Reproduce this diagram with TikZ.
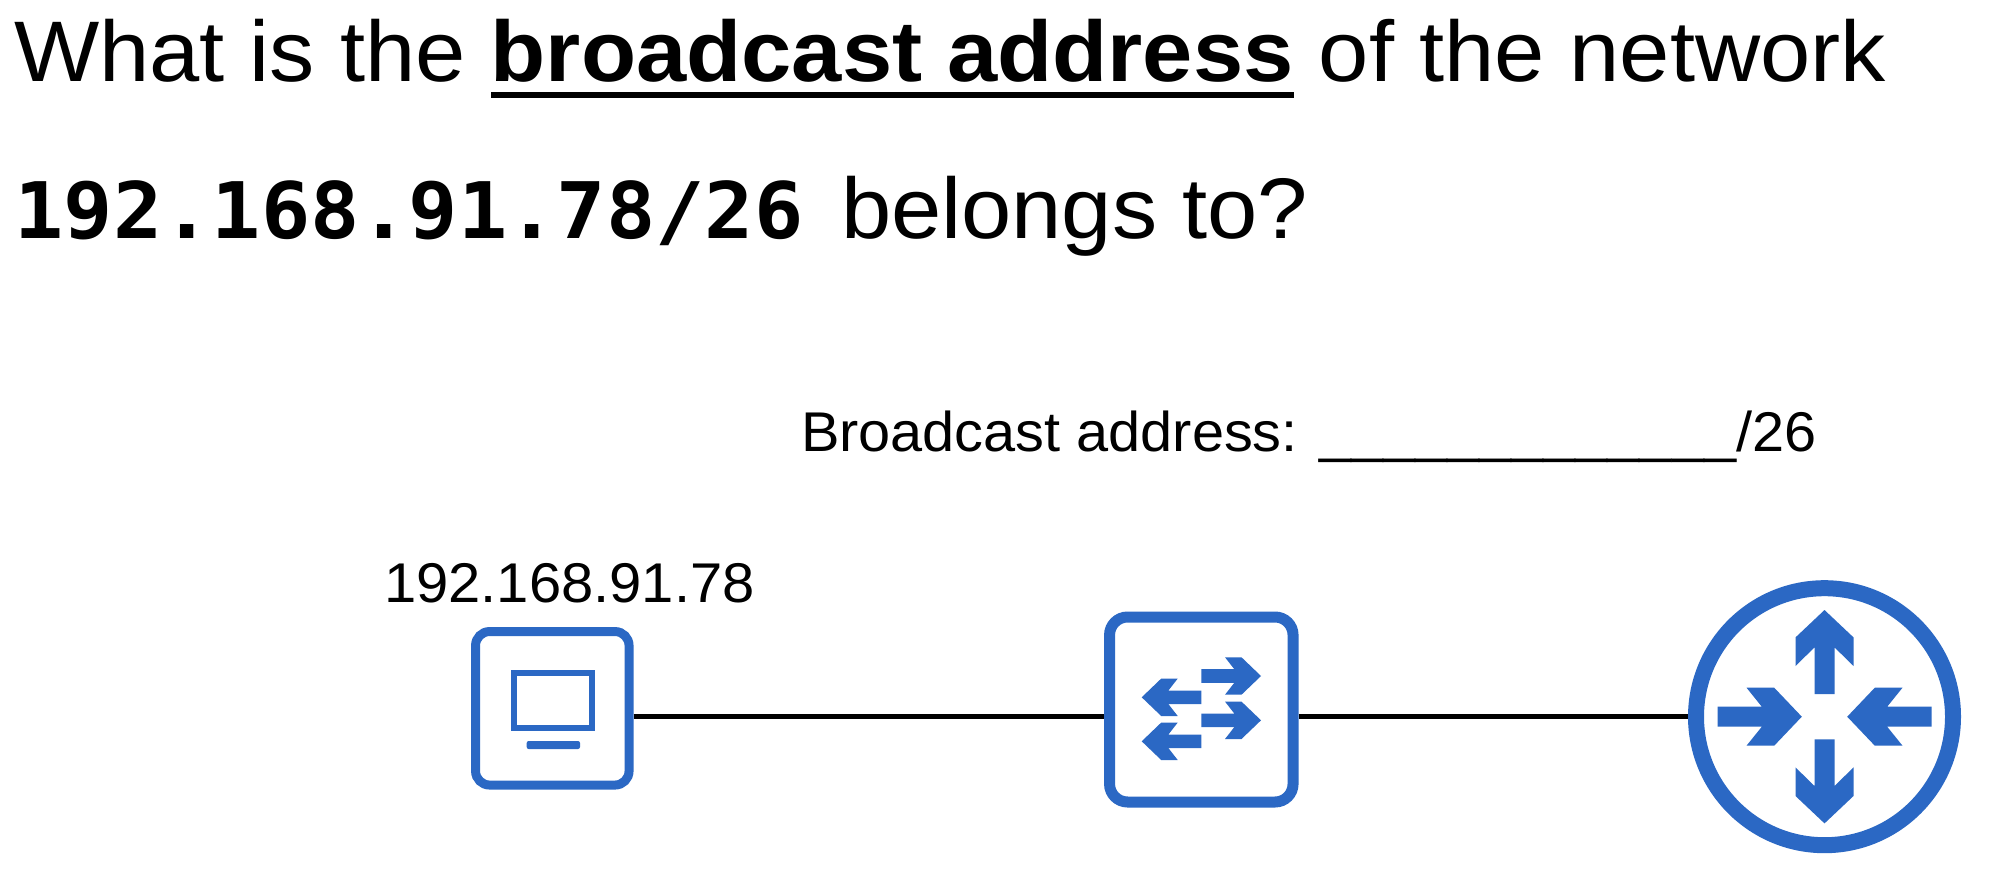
\documentclass[tikz,border=0pt]{standalone}
\usepackage{graphicx}
\usepackage{fontspec}
\setmainfont{Liberation Sans}
\setmonofont{DejaVu Sans Mono}
\definecolor{netblue}{HTML}{2B68C4}
\newcommand\fs[1]{\fontsize{#1}{#1}\selectfont}
\newcommand\thickul[1]{\setbox0=\hbox{#1}\rlap{\rule[-16pt]{\wd0}{6pt}}\box0\relax}
\tikzset{
  txt/.style={anchor=base west,inner sep=0pt,outer sep=0pt,text=black},
  device/.style={draw=netblue,fill=white,rectangle,inner sep=0pt},
  wire/.style={draw=black,line width=4.5pt},
  glyph/.style={fill=netblue,draw=none},
}
\newcommand\swarrowicon[1]{\fill[glyph,#1] (0,0)--(-19.5,-18.7)--(-36,-18.7)--(-26.7,-6.8)--(-59.7,-6.8)--(-59.7,6.8)--(-26.7,6.8)--(-36,18.7)--(-19.5,18.7)--cycle;}
\begin{document}
\begin{tikzpicture}[x=1pt,y=-1pt]
\useasboundingbox (0,0) rectangle (2014,880);
\fill[white] (0,0) rectangle (2014,880);
\node[txt] (q1) at (14,81.7) {\scalebox{1.05}[1]{\fs{86}What is the \thickul{\textbf{broadcast address}} of the network}};
\node[txt] (q2) at (14.5,238.7) {\scalebox{1.05}[1]{\fs{78}\texttt{\textbf{192.168.91.78/26}}\fs{86}\kern 12pt{} belongs to?}};
\node[txt] (ba) at (801,451.7) {\scalebox{1.03}[1]{\fs{56}Broadcast address: \_\_\_\_\_\_\_\_\_\_\_\_\_/26}};
\node[txt] (ip) at (384,602) {\scalebox{1.035}[1]{\fs{56}192.168.91.78}};
% devices
\node[draw=netblue,line width=16pt,circle,minimum size=257pt,inner sep=0pt,fill=white] (router) at (1824.5,716.7) {};
\node[device,line width=9pt,rounded corners=14pt,minimum size=153.5pt] (pc) at (552.3,708.3) {};
\node[device,line width=11pt,rounded corners=18pt,minimum width=183.5pt,minimum height=185pt] (switch) at (1201.3,709.5) {};
% connectors
\draw[wire] (pc.east |- router.west) -- (switch.west |- router.west);
\draw[wire] (switch.east |- router.west) -- (router.west);
% pc icon
\draw[netblue,line width=6.5pt] (514,673) rectangle (592,728);
\fill[netblue,rounded corners=2pt] (526.7,741) rectangle (580,749);
% switch icon
\swarrowicon{shift={(1261,676)}}
\swarrowicon{shift={(1261,720.3)}}
\swarrowicon{shift={(1141.7,697.3)},xscale=-1}
\swarrowicon{shift={(1141.7,741.3)},xscale=-1}
% router icon
\begin{scope}[shift={(router.center)}]
\foreach \a in {90,270}
  \fill[glyph,rotate=\a] (106.7,0)--(79.3,29)--(50.7,29)--(69.3,10)--(22.7,10)--(22.7,-10)--(69.3,-10)--(50.7,-29)--(79.3,-29)--cycle;
\foreach \a in {0,180}
  \fill[glyph,rotate=\a] (22.7,0)--(50.3,29)--(78,29)--(62.7,10)--(107,10)--(107,-10)--(62.7,-10)--(78,-29)--(50.3,-29)--cycle;
\end{scope}
\end{tikzpicture}
\end{document}
